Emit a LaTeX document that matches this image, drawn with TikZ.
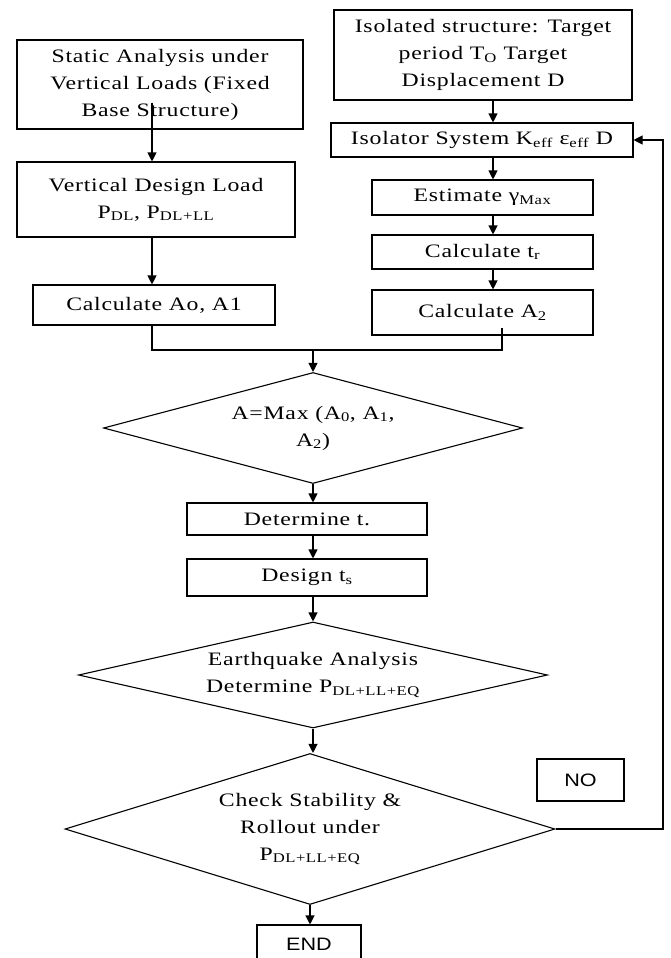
\documentclass[tikz,border=0pt]{standalone}
\usepackage{fontspec}
\setmainfont{Liberation Serif}[FakeStretch=1.25,LetterSpace=4]
\newfontfamily\labsans{Liberation Sans}[FakeStretch=1.2]
\usetikzlibrary{shapes.geometric,arrows.meta,calc}
\begin{document}
\begin{tikzpicture}[x=1pt,y=-1pt,line width=1.1pt,
  txt/.style={font=\fontsize{19}{27}\selectfont,align=center},
  boxn/.style={draw,txt,inner sep=0pt},
  dia/.style={draw,shape=diamond,txt,inner sep=0pt},
  arr/.style={-{Triangle[length=9pt,width=9pt]}}]
\useasboundingbox (0,0) rectangle (670,958);
% left column
\node[boxn,minimum width=286,minimum height=89] (b1) at (160,84.5) {Static Analysis under\\Vertical Loads (Fixed\\Base Structure)};
\node[boxn,minimum width=278,minimum height=75] (b2) at (156,199.5) {Vertical Design Load\\P\textsubscript{DL}, P\textsubscript{DL+LL}};
\node[boxn,minimum width=242,minimum height=40] (b3) at (154,305) {Calculate Ao, A1};
% right column
\node[boxn,minimum width=298,minimum height=90] (iso) at (483,55) {Isolated structure: Target\\period T\textsubscript{O} Target\\Displacement D};
\node[boxn,minimum width=302,minimum height=34] (isys) at (482,140) {Isolator System K\textsubscript{eff} ε\textsubscript{eff} D};
\node[boxn,minimum width=221,minimum height=35] (gam) at (482.5,197.5) {Estimate γ\textsubscript{Max}};
\node[boxn,minimum width=221,minimum height=34] (tr) at (482.5,252) {Calculate t\textsubscript{r}};
\node[boxn,minimum width=221,minimum height=45] (a2) at (482.5,312.5) {Calculate A\textsubscript{2}};
% centre column
\node[dia,minimum width=419,minimum height=111,aspect=3.77] (dmax) at (313,428) {A=Max (A\textsubscript{0}, A\textsubscript{1},\\A\textsubscript{2})};
\node[boxn,minimum width=240,minimum height=32] (dt) at (307,519) {Determine t.};
\node[boxn,minimum width=240,minimum height=37] (ts) at (307,577.5) {Design t\textsubscript{s}};
\node[dia,minimum width=469,minimum height=106,aspect=4.42] (eq) at (313,675) {Earthquake Analysis\\Determine P\textsubscript{DL+LL+EQ}};
\node[dia,minimum width=490,minimum height=151,aspect=3.24] (chk) at (310,829) {Check Stability \&\\Rollout under\\P\textsubscript{DL+LL+EQ}};
\node[draw,inner sep=0pt,minimum width=104,minimum height=38,font=\labsans\fontsize{18}{20}\selectfont] (endn) at (309,944) {END};
\node[draw,inner sep=0pt,minimum width=87,minimum height=42,font=\labsans\fontsize{18}{20}\selectfont] (no) at (580.5,780) {NO};
% helper coordinates
\coordinate (lx) at (152,0);
\coordinate (rx) at (493,0);
\coordinate (ax) at (502,0);
\coordinate (mj) at (313,350);
\coordinate (fx) at (663,0);
% connectors
\draw[arr] ($(b1.south -| lx)+(0,-27)$) -- (b2.north -| lx);
\draw[arr] (b2.south -| lx) -- (b3.north -| lx);
\draw (b3.south -| lx) |- (mj);
\draw ($(a2.south -| ax)+(0,-8)$) |- (mj);
\draw[arr] (mj) -- (dmax.north);
\draw[arr] (iso.south -| rx) -- (isys.north -| rx);
\draw[arr] (isys.south -| rx) -- (gam.north -| rx);
\draw[arr] (gam.south -| rx) -- (tr.north -| rx);
\draw[arr] (tr.south -| rx) -- (a2.north -| rx);
\draw[arr] (dmax.south) -- (dt.north -| dmax.south);
\draw[arr] (dt.south -| dmax.south) -- (ts.north -| dmax.south);
\draw[arr] (ts.south -| eq.north) -- (eq.north);
\draw[arr] (eq.south) -- (chk.north -| eq.south);
\draw[arr] (chk.south) -- (endn.north -| chk.south);
\draw[arr] (chk.east) -- (chk.east -| fx) -- (fx |- isys.east) -- (isys.east);
\end{tikzpicture}
\end{document}
